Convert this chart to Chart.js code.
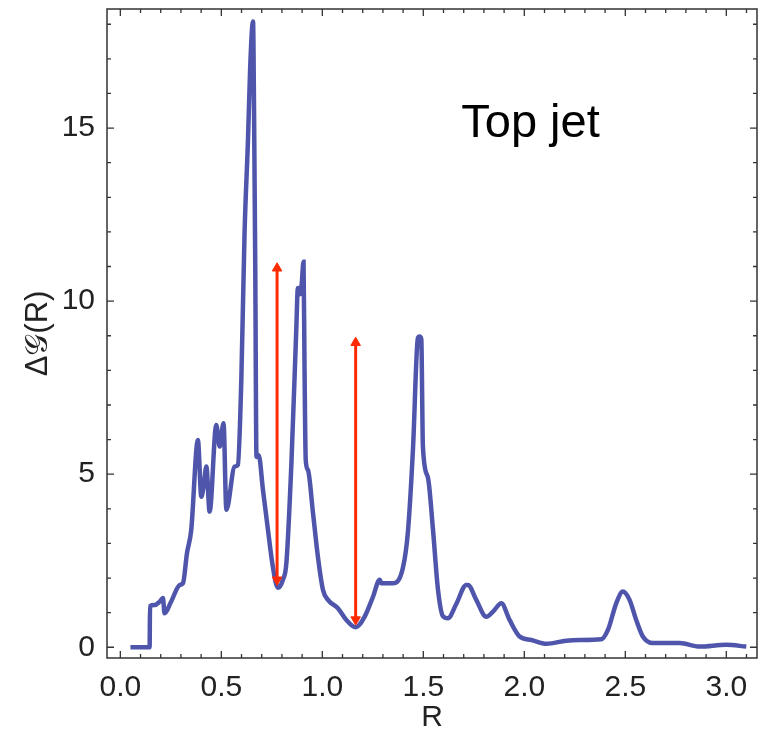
<!DOCTYPE html>
<html>
<head>
<meta charset="utf-8">
<script src="https://cdn.jsdelivr.net/npm/chart.js@4/dist/chart.umd.min.js"></script>
<style>
  html, body { margin: 0; padding: 0; background: #fff; }
  #wrap { width: 767px; height: 733px; }
</style>
</head>
<body>
<div id="wrap"><canvas id="grafica" width="767" height="733"></canvas></div>
<script>
// valores
const rValues = [0.05, 0.145, 0.147, 0.17, 0.195, 0.211, 0.219, 0.25, 0.294, 0.31, 0.33, 0.351, 0.384, 0.401, 0.412, 0.426,
  0.442, 0.475, 0.492, 0.511, 0.525, 0.566, 0.582, 0.599, 0.615, 0.632, 0.643, 0.657, 0.662, 0.668, 0.674, 0.685, 0.706,
  0.731, 0.755, 0.78, 0.805, 0.822, 0.847, 0.871, 0.879, 0.89, 0.898, 0.907, 0.912, 0.918, 0.929, 0.954, 0.978, 1.003,
  1.028, 1.077, 1.119, 1.165, 1.209, 1.251, 1.284, 1.292, 1.35, 1.399, 1.424, 1.449, 1.473, 1.482, 1.49, 1.498, 1.523,
  1.548, 1.572, 1.597, 1.622, 1.663, 1.713, 1.721, 1.762, 1.812, 1.845, 1.886, 1.927, 1.977, 2.035, 2.109, 2.208, 2.274,
  2.381, 2.414, 2.455, 2.488, 2.521, 2.554, 2.587, 2.637, 2.769, 2.868, 3.0, 3.099];
const deltaG = [0, 0, 1.19, 1.22, 1.32, 1.42, 0.98, 1.3, 1.8, 1.85, 2.72, 3.39, 5.99, 4.35, 4.64, 5.22,
  3.92, 6.42, 5.8, 6.47, 3.97, 5.22, 5.27, 7.73, 11.97, 14.66, 16.78, 18.08, 15.5, 11, 5.5, 5.55, 4.55,
  3.39, 2.33, 1.72, 1.95, 2.43, 5.32, 9.17, 10.38, 10.2, 10.5, 11.14, 8.0, 5.4, 5.12, 3.87, 2.62, 1.66,
  1.37, 1.13, 0.79, 0.58, 0.88, 1.46, 1.95, 1.85, 1.85, 2.3, 3.35, 5.75, 8.93, 8.98, 8.9, 5.8, 4.9,
  3.39, 1.7, 0.9, 0.84, 1.25, 1.8, 1.8, 1.37, 0.88, 1.03, 1.27, 0.79, 0.31, 0.21, 0.1, 0.19, 0.21,
  0.23, 0.5, 1.27, 1.61, 1.37, 0.79, 0.31, 0.12, 0.12, 0.02, 0.07, 0.02];

// flechas rojas (R, extremo inferior, extremo superior)
const arrowR = [0.776, 1.165];
const arrowLow = [1.95, 0.8];
const arrowHigh = [10.95, 8.8];

const xTicks = [0, 0.5, 1.0, 1.5, 2.0, 2.5, 3.0];
const yTicks = [0, 5, 10, 15];
const xMinor = [];
for (let i = 0; i <= 31; i++) xMinor.push(i / 10);
const yMinor = [];
for (let i = 0; i <= 18; i++) yMinor.push(i);

const fuente = "'Liberation Sans', Arial, sans-serif";

const datos = rValues.map((r, i) => ({ x: r, y: deltaG[i] }));

const marco = {
  id: 'marco',
  afterDatasetsDraw(chart) {
    const { ctx, chartArea: a, scales } = chart;
    const sx = scales.x, sy = scales.y;
    ctx.save();
    ctx.strokeStyle = '#333';
    ctx.lineWidth = 1.5;
    ctx.strokeRect(a.left, a.top, a.right - a.left, a.bottom - a.top);
    ctx.lineWidth = 1.3;
    ctx.beginPath();
    xMinor.forEach(v => {
      const px = sx.getPixelForValue(v);
      const len = xTicks.some(t => Math.abs(t - v) < 1e-6) ? 7 : 4;
      ctx.moveTo(px, a.bottom); ctx.lineTo(px, a.bottom - len);
      ctx.moveTo(px, a.top); ctx.lineTo(px, a.top + len);
    });
    yMinor.forEach(v => {
      const py = sy.getPixelForValue(v);
      const len = yTicks.includes(v) ? 7 : 4;
      ctx.moveTo(a.left, py); ctx.lineTo(a.left + len, py);
      ctx.moveTo(a.right, py); ctx.lineTo(a.right - len, py);
    });
    ctx.stroke();
    // etiqueta
    ctx.fillStyle = '#000';
    ctx.font = '47px ' + fuente;
    ctx.textBaseline = 'alphabetic';
    ctx.fillText('Top jet', sx.getPixelForValue(1.688), sy.getPixelForValue(14.75));
    ctx.restore();
  }
};

const flechaDatasets = arrowR.map((r, i) => ({
  data: [{ x: r, y: arrowLow[i] }, { x: r, y: arrowHigh[i] }],
  borderColor: '#ff2a00',
  backgroundColor: '#ff2a00',
  borderWidth: 3,
  pointStyle: 'triangle',
  pointRadius: 5.5,
  pointRotation: [180, 0],
  pointBorderWidth: 1,
  order: 1
}));

new Chart(document.getElementById('grafica').getContext('2d'), {
  type: 'line',
  data: {
    datasets: [{
      data: datos,
      borderColor: '#4f55ab',
      borderWidth: 4.5,
      pointRadius: 0,
      cubicInterpolationMode: 'monotone',
      order: 2
    }, ...flechaDatasets]
  },
  options: {
    responsive: false,
    animation: false,
    layout: { padding: { top: 9, right: 10, left: 0, bottom: 0 } },
    plugins: { legend: { display: false }, tooltip: { enabled: false } },
    scales: {
      x: {
        type: 'linear',
        min: -0.066,
        max: 3.152,
        afterBuildTicks: s => { s.ticks = xTicks.map(v => ({ value: v })); },
        afterFit: s => { s.height = 75; s.paddingLeft = 0; s.paddingRight = 0; },
        grid: { display: false },
        border: { display: false },
        ticks: {
          font: { family: fuente, size: 30 },
          color: '#222',
          padding: 4,
          maxRotation: 0,
          callback: v => v.toFixed(1)
        },
        title: {
          display: true,
          text: 'R',
          font: { family: fuente, size: 30, lineHeight: 1 },
          color: '#222',
          padding: { top: 0, bottom: 0 }
        }
      },
      y: {
        min: -0.31,
        max: 18.44,
        afterBuildTicks: s => { s.ticks = yTicks.map(v => ({ value: v })); },
        afterFit: s => { s.width = 107; s.paddingTop = 0; s.paddingBottom = 0; },
        grid: { display: false },
        border: { display: false },
        ticks: {
          font: { family: fuente, size: 30 },
          color: '#222',
          padding: 4,
          callback: v => String(v)
        },
        title: {
          display: true,
          text: 'Δ𝒢(R)',
          font: { family: fuente, size: 31, lineHeight: 1.2 },
          color: '#222',
          padding: { top: 20, bottom: 0 }
        }
      }
    }
  },
  plugins: [marco]
});
</script>
</body>
</html>
